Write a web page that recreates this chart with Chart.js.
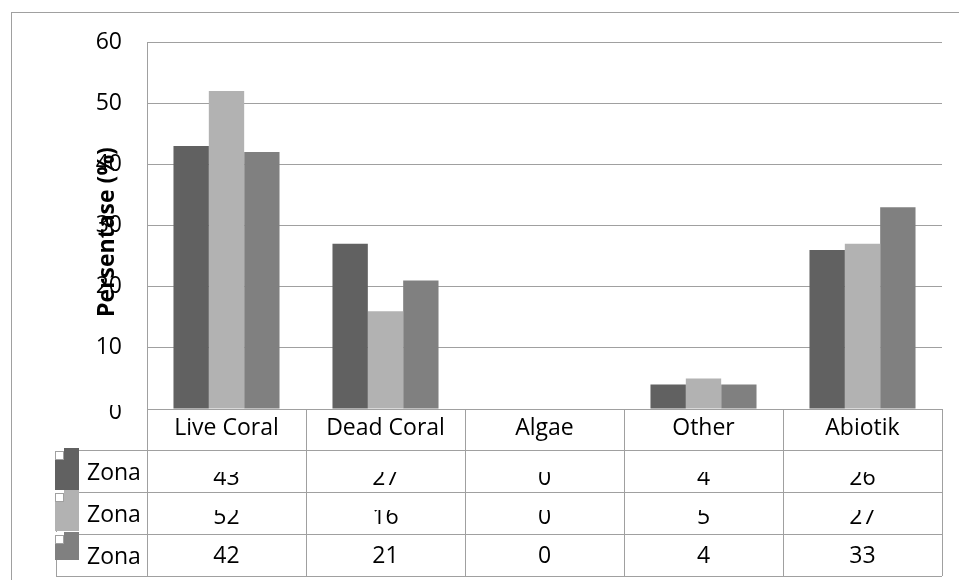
<!DOCTYPE html>
<html>
<head>
<meta charset="utf-8">
<title>Persentase tutupan</title>
<script src="https://cdn.jsdelivr.net/npm/chart.js@4.4.1/dist/chart.umd.min.js"></script>
<style>
    html, body { margin: 0; padding: 0; background: #fff; }
    #wrap { width: 959px; height: 580px; position: relative; }
</style>
</head>
<body>
<div id="wrap"><canvas id="coverChart" width="959" height="580"></canvas></div>
<script>
// categories and values per zone (%)
const categories = ['Live Coral', 'Dead Coral', 'Algae', 'Other', 'Abiotik'];
const seriesNames = ['Zona', 'Zona', 'Zona'];
const zona1 = [43, 27, 0, 4, 26];
const zona2 = [52, 16, 0, 5, 27];
const zona3 = [42, 21, 0, 4, 33];
const yMin = 0;
const yMax = 60;
const yStep = 10;
const yTitle = 'Persentase (%)';

const seriesColors = ['#616161', '#b2b2b2', '#808080'];
const lineColor = '#a0a0a0';
const fontFamily = '"Open Sans", "Liberation Sans", sans-serif';

// data table under the plot: row geometry
const headerH = 41;
const rowH = 42;
const tableLeft = 56;

// draws the outer frame, the rotated axis title and the data table
const dataTablePlugin = {
    id: 'dataTable',
    afterDraw(chart) {
        const ctx = chart.ctx;
        const area = chart.chartArea;
        const x = chart.scales.x;
        const y = chart.scales.y;
        const seriesData = chart.data.datasets.map(ds => ds.data);

        ctx.save();

        // outer frame
        ctx.strokeStyle = lineColor;
        ctx.lineWidth = 1;
        ctx.strokeRect(11.5, 12.5, 960, 600);

        // zero tick label, top of it is cut off
        ctx.font = '23px ' + fontFamily;
        ctx.fillStyle = '#000';
        ctx.save();
        ctx.beginPath();
        ctx.rect(60, y.getPixelForValue(yMin) - 4, 80, 30);
        ctx.clip();
        ctx.textAlign = 'right';
        ctx.textBaseline = 'alphabetic';
        ctx.fillText(String(yMin), 122, y.getPixelForValue(yMin) + 10);
        ctx.restore();

        // y axis title, sits over the tick labels
        ctx.save();
        ctx.translate(114, 232);
        ctx.rotate(-Math.PI / 2);
        ctx.font = 'bold 23px ' + fontFamily;
        ctx.textAlign = 'center';
        ctx.textBaseline = 'alphabetic';
        ctx.fillText(yTitle, 0, 0);
        ctx.restore();

        const top = area.bottom;
        const rowsTop = top + headerH;
        const bottom = rowsTop + rowH * seriesData.length;
        const step = (area.right - area.left) / categories.length;

        // table grid
        ctx.strokeStyle = lineColor;
        ctx.lineWidth = 1;
        ctx.beginPath();
        for (let r = 0; r <= seriesData.length; r++) {
            const yy = Math.round(rowsTop + r * rowH) + 0.5;
            ctx.moveTo(tableLeft, yy);
            ctx.lineTo(area.right, yy);
        }
        ctx.moveTo(tableLeft + 0.5, rowsTop);
        ctx.lineTo(tableLeft + 0.5, bottom);
        for (let i = 0; i <= categories.length; i++) {
            const xx = Math.round(area.left + i * step) + 0.5;
            ctx.moveTo(xx, top);
            ctx.lineTo(xx, bottom);
        }
        ctx.stroke();

        // legend keys and series names
        const keyHeights = [43, 41, 28];
        seriesData.forEach((vals, r) => {
            const rt = rowsTop + r * rowH;
            ctx.fillStyle = seriesColors[r];
            ctx.fillRect(55, rt - 2, 24, keyHeights[r]);
            ctx.fillStyle = '#fff';
            ctx.fillRect(55, rt - 2, 9, 11);
            ctx.strokeStyle = lineColor;
            ctx.strokeRect(55.5, rt + 1.5, 8, 8);

            ctx.fillStyle = '#000';
            ctx.textAlign = 'left';
            ctx.textBaseline = 'alphabetic';
            ctx.fillText(seriesNames[r], 87, rt + rowH / 2 + 9);
        });

        // values; the first two rows sit low and lose their tops
        const valueDrop = [14, 11, 8];
        const clipTop = [472, 510, 534];
        ctx.textAlign = 'center';
        seriesData.forEach((vals, r) => {
            const rt = rowsTop + r * rowH;
            ctx.save();
            ctx.beginPath();
            ctx.rect(area.left, clipTop[r], area.right - area.left, rt + rowH - clipTop[r]);
            ctx.clip();
            vals.forEach((v, i) => {
                ctx.fillText(String(v), x.getPixelForValue(i), rt + rowH / 2 + valueDrop[r]);
            });
            ctx.restore();
        });

        ctx.restore();
    }
};

const ctx = document.getElementById('coverChart');

new Chart(ctx, {
    type: 'bar',
    data: {
        labels: categories,
        datasets: [zona1, zona2, zona3].map((vals, i) => ({
            label: seriesNames[i],
            data: vals,
            backgroundColor: seriesColors[i],
            borderWidth: 0,
            categoryPercentage: 0.667,
            barPercentage: 1.0
        }))
    },
    options: {
        responsive: false,
        animation: false,
        devicePixelRatio: 1,
        layout: {
            padding: { top: 42, right: 17, bottom: 0, left: 0 }
        },
        plugins: {
            legend: { display: false },
            title: { display: false },
            tooltip: { enabled: false }
        },
        scales: {
            x: {
                afterFit: (scale) => { scale.height = 171; },
                grid: { display: false },
                border: { display: true, color: lineColor, width: 1 },
                ticks: {
                    color: '#000',
                    font: { family: fontFamily, size: 23 },
                    padding: -2,
                    maxRotation: 0
                }
            },
            y: {
                min: yMin,
                max: yMax,
                afterFit: (scale) => { scale.width = 147; },
                grid: { color: lineColor, lineWidth: 1, drawTicks: false },
                border: { display: true, color: lineColor, width: 1 },
                ticks: {
                    stepSize: yStep,
                    color: '#000',
                    font: { family: fontFamily, size: 23 },
                    padding: 25,
                    // the zero label is drawn by the table plugin
                    callback: (v) => (v === yMin ? '' : v)
                }
            }
        }
    },
    plugins: [dataTablePlugin]
});
</script>
</body>
</html>
